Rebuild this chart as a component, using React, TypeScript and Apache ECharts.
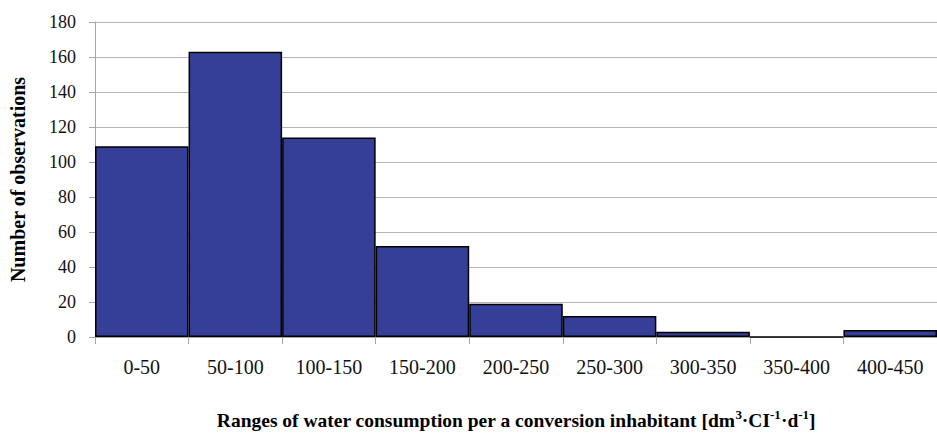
import React, { useEffect, useRef } from "react";
import * as echarts from "echarts";

const categories = ["0-50", "50-100", "100-150", "150-200", "200-250", "250-300", "300-350", "350-400", "400-450"];
const counts = [109, 163, 114, 52, 19, 12, 3, 0, 4];
const yTicks = { min: 0, max: 180, interval: 20 };

export default function App() {
  const ref = useRef<HTMLDivElement>(null);
  useEffect(() => {
    document.body.style.margin = "0";
    const chart = echarts.init(ref.current!, null, { renderer: "svg" });
    const serif = "Liberation Serif, Times New Roman, serif";
    chart.setOption({
      animation: false,
      backgroundColor: "#ffffff",
      textStyle: { fontFamily: serif },
      grid: { left: 95, right: 0, top: 22, bottom: 98 },
      xAxis: {
        type: "category",
        data: categories,
        axisLine: { show: true, lineStyle: { color: "#a6a6a6", width: 1 } },
        axisTick: { show: true, length: 7, lineStyle: { color: "#a6a6a6" } },
        axisLabel: { fontFamily: serif, fontSize: 20, color: "#111", margin: 20 },
        name: "{a|Ranges of water consumption per a conversion inhabitant [dm}{s|3}{a|·CI}{s|-1}{a|·d}{s|-1}{a|]}",
        nameLocation: "middle",
        nameGap: 71,
        nameTextStyle: {
          fontFamily: serif,
          rich: {
            a: { fontFamily: serif, fontSize: 19.5, fontWeight: "bold", color: "#000", lineHeight: 22, verticalAlign: "bottom" },
            s: { fontFamily: serif, fontSize: 13, fontWeight: "bold", color: "#000", lineHeight: 22, verticalAlign: "top", padding: [0, 0, 10, 0] },
          },
        },
      },
      yAxis: {
        type: "value",
        min: yTicks.min,
        max: yTicks.max,
        interval: yTicks.interval,
        axisLine: { show: true, lineStyle: { color: "#a6a6a6", width: 1 } },
        axisTick: { show: true, length: 6, lineStyle: { color: "#a6a6a6" } },
        axisLabel: { fontFamily: serif, fontSize: 18, color: "#111", margin: 19 },
        splitLine: { show: true, lineStyle: { color: "#b4b4b4", width: 1 } },
        name: "Number of observations",
        nameLocation: "middle",
        nameGap: 67,
        nameTextStyle: { fontFamily: serif, fontSize: 20, fontWeight: "bold", color: "#000" },
      },
      series: [
        {
          type: "bar",
          data: counts,
          barWidth: "100%",
          barCategoryGap: "0%",
          itemStyle: { color: "#363f97", borderColor: "#000", borderWidth: 1.5 },
        },
      ],
    });
    return () => chart.dispose();
  }, []);
  return <div ref={ref} style={{ width: 937, height: 436 }} />;
}
